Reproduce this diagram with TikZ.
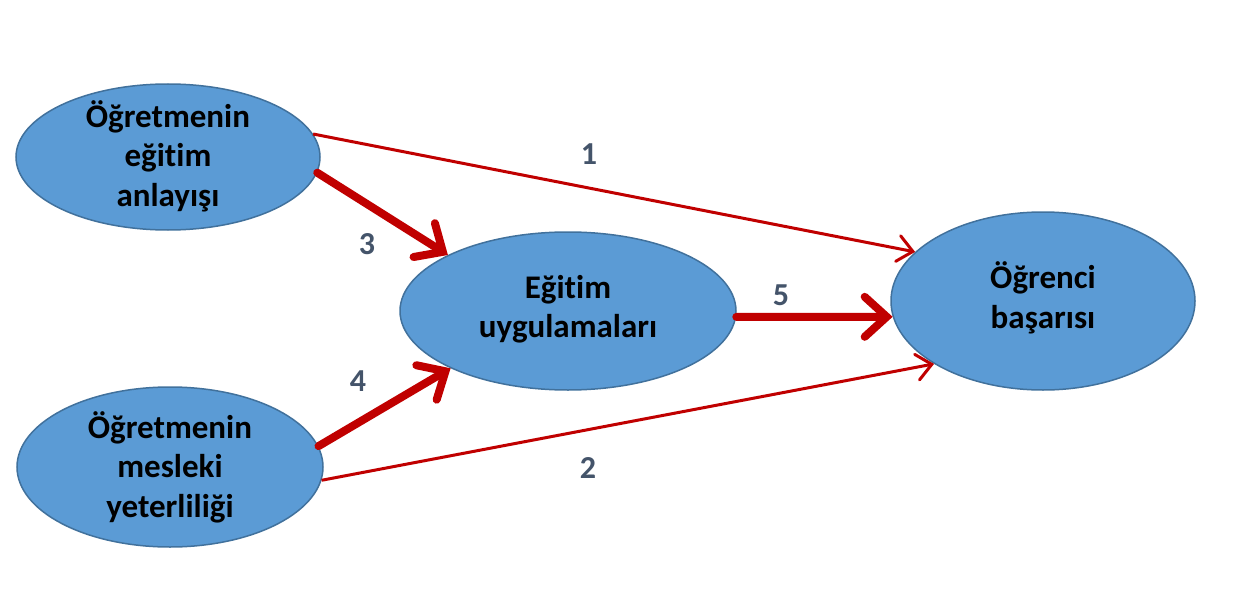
\documentclass[tikz,border=0pt]{standalone}
\usepackage{fontspec}
\setmainfont{Carlito}[Ligatures={NoCommon,NoRequired,NoContextual}]
\usetikzlibrary{shapes.geometric,arrows.meta}
\definecolor{ellfill}{HTML}{5B9BD5}
\definecolor{elldraw}{HTML}{41719C}
\definecolor{arrred}{HTML}{C00000}
\definecolor{lblcol}{HTML}{44546A}
\tikzset{
  bubble/.style={ellipse, fill=ellfill, draw=elldraw, line width=1.5pt, inner sep=0pt},
  btext/.style={align=center, font=\fontsize{33}{39.5}\selectfont\bfseries, text=black},
  numlbl/.style={font=\fontsize{32}{38}\selectfont\bfseries, text=lblcol},
  thinarr/.style={draw=arrred, line width=3pt, -{Straight Barb[length=15pt,width=26pt,line cap=round]}},
  thickarr/.style={draw=arrred, line width=8pt, line cap=round, -{Straight Barb[length=22pt,width=40pt,line cap=round]}},
}
\begin{document}
\begin{tikzpicture}[x=1pt,y=-1pt]
\useasboundingbox (0,0) rectangle (1240,602);
\node[bubble, minimum width=304pt, minimum height=146pt] (A) at (168,157) {};
\node[bubble, minimum width=306pt, minimum height=160pt] (B) at (170,467) {};
\node[bubble, minimum width=336pt, minimum height=158pt] (C) at (568,311) {};
\node[bubble, minimum width=304pt, minimum height=178pt] (D) at (1043,301) {};
\node[btext] (At) at ([yshift=1pt]A.center) {Öğretmenin\\eğitim\\anlayışı};
\node[btext] (Bt) at ([yshift=0pt]B.center) {Öğretmenin\\mesleki\\yeterliliği};
\node[btext] (Ct) at ([yshift=2pt]C.center) {Eğitim\\uygulamaları};
\node[btext] (Dt) at ([yshift=3pt]D.center) {Öğrenci\\başarısı};
\draw[thinarr] (A.9) -- (D.159);
\draw[thinarr] (B.-5) -- (D.210);
\draw[thickarr] (A.-6) -- (C.155);
\draw[thickarr] (B.8) -- (C.206);
\draw[thickarr] (C.-2.4) -- (D.186);
\node[numlbl] (n1) at (589,154) {1};
\node[numlbl] (n2) at (588,468) {2};
\node[numlbl] (n3) at (367,244) {3};
\node[numlbl] (n4) at (358,381) {4};
\node[numlbl] (n5) at (781,295) {5};
\end{tikzpicture}
\end{document}
